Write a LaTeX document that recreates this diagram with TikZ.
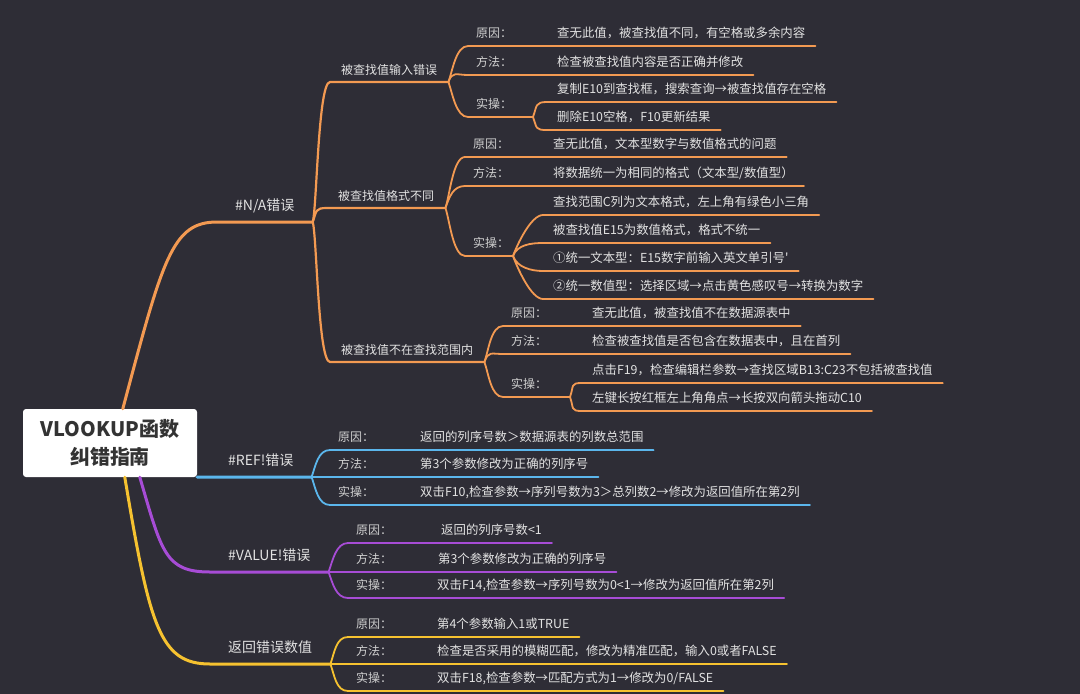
\documentclass[tikz,border=0pt]{standalone}
\usepackage{fontspec}
\setmainfont{Noto Sans CJK SC}
\definecolor{bgc}{HTML}{2E2D36}
\definecolor{cna}{HTML}{F39A52}
\definecolor{cref}{HTML}{5BB6EC}
\definecolor{cval}{HTML}{A74CD6}
\definecolor{crv}{HTML}{F6C230}
\definecolor{txtc}{HTML}{E2E2E2}
\definecolor{labc}{HTML}{D0D0D0}
\definecolor{rootc}{HTML}{333333}
\tikzstyle{root}=[fill=white,rounded corners=3pt,minimum width=174pt,minimum height=68pt,align=center,text=rootc,font=\fontsize{20}{28}\selectfont\bfseries]
\tikzstyle{main}=[anchor=south west,inner xsep=18pt,inner ysep=11pt,text depth=0pt,text=txtc,font=\fontsize{14}{16}\selectfont]
\tikzstyle{sub}=[anchor=south west,inner xsep=11pt,inner ysep=7.5pt,text depth=0pt,text=txtc,font=\fontsize{12}{14}\selectfont]
\tikzstyle{lab}=[anchor=south west,inner xsep=8pt,inner ysep=8pt,text depth=0pt,text=labc,font=\fontsize{12}{14}\selectfont]
\tikzstyle{txt}=[anchor=south west,inner xsep=10pt,inner ysep=8pt,text depth=0pt,text=txtc,font=\fontsize{12.4}{14}\selectfont]
\tikzstyle{bup}=[out=70,in=180,out distance=12pt,in distance=12pt]
\tikzstyle{bdn}=[out=-70,in=180,out distance=12pt,in distance=12pt]
\tikzstyle{nathick}=[cna,line width=3pt,line cap=round]
\tikzstyle{namid}=[cna,line width=2.2pt,line cap=round]
\tikzstyle{nathin}=[cna,line width=1.8pt,line cap=round]
\tikzstyle{refthick}=[cref,line width=3pt,line cap=round]
\tikzstyle{refthin}=[cref,line width=1.8pt,line cap=round]
\tikzstyle{valthick}=[cval,line width=3pt,line cap=round]
\tikzstyle{valthin}=[cval,line width=1.8pt,line cap=round]
\tikzstyle{rvthick}=[crv,line width=3pt,line cap=round]
\tikzstyle{rvthin}=[crv,line width=1.8pt,line cap=round]
\begin{document}
\begin{tikzpicture}[x=1pt,y=-1pt]
  \fill[bgc] (0,0) rectangle (1080,694);
  \useasboundingbox (0,0) rectangle (1080,694);

  % root and first level
  \node[root] (root) at (110,443) {VLOOKUP函数\\纠错指南};
  \coordinate (rNA) at ([xshift=100pt]root.north west);
  \coordinate (rVAL) at ([xshift=117pt]root.south west);
  \coordinate (rRV) at ([xshift=102pt]root.south west);
  \node[main] (na) at (217,222) {\#N/A错误};
  \node[main] (ref) at (210,477) {\#REF!错误};
  \node[main] (val) at (210,572) {\#VALUE!错误};
  \node[main] (rv) at (210,664) {返回错误数值};

  % #N/A
  \node[sub] (s1) at (330,82) {被查找值输入错误};
  \node[sub] (s2) at (327,208) {被查找值格式不同};
  \node[sub] (s3) at (330,362) {被查找值不在查找范围内};

  \node[lab] (s1a) at (468,46) {原因：};
  \node[txt] (s1at) at (547,46) {查无此值，被查找值不同，有空格或多余内容};
  \node[lab] (s1b) at (468,75) {方法：};
  \node[txt] (s1bt) at (547,75) {检查被查找值内容是否正确并修改};
  \node[lab] (s1c) at (468,117) {实操：};
  \coordinate (s1f) at (533,117);
  \node[txt] (s1c1) at (547,102) {复制E10到查找框，搜索查询→被查找值存在空格};
  \node[txt] (s1c2) at (547,130) {删除E10空格，F10更新结果};

  \node[lab] (s2a) at (465,157) {原因：};
  \node[txt] (s2at) at (543,157) {查无此值，文本型数字与数值格式的问题};
  \node[lab] (s2b) at (465,186) {方法：};
  \node[txt] (s2bt) at (543,186) {将数据统一为相同的格式（文本型/数值型）};
  \node[lab] (s2c) at (465,256) {实操：};
  \coordinate (s2f) at (513,256);
  \node[txt] (s2c1) at (543,215) {查找范围C列为文本格式，左上角有绿色小三角};
  \node[txt] (s2c2) at (543,243) {被查找值E15为数值格式，格式不统一};
  \node[txt] (s2c3) at (543,271) {①统一文本型：E15数字前输入英文单引号\textquotesingle};
  \node[txt] (s2c4) at (543,299) {②统一数值型：选择区域→点击黄色感叹号→转换为数字};

  \node[lab] (s3a) at (503,326) {原因：};
  \node[txt] (s3at) at (582,326) {查无此值，被查找值不在数据源表中};
  \node[lab] (s3b) at (503,354) {方法：};
  \node[txt] (s3bt) at (582,354) {检查被查找值是否包含在数据表中，且在首列};
  \node[lab] (s3c) at (503,397) {实操：};
  \coordinate (s3f) at (570,397);
  \node[txt] (s3c1) at (582,383) {点击F19，检查编辑栏参数→查找区域B13:C23不包括被查找值};
  \node[txt] (s3c2) at (582,411) {左键长按红框左上角角点→长按双向箭头拖动C10};

  % #REF!
  \node[lab] (ra) at (330,450) {原因：};
  \node[txt] (rat) at (410,450) {返回的列序号数＞数据源表的列数总范围};
  \node[lab] (rb) at (330,477) {方法：};
  \node[txt] (rbt) at (410,477) {第3个参数修改为正确的列序号};
  \node[lab] (rc) at (330,505) {实操：};
  \node[txt] (rct) at (410,505) {双击F10,检查参数→序列号数为3＞总列数2→修改为返回值所在第2列};

  % #VALUE!
  \node[lab] (va) at (348,543) {原因：};
  \node[txt] (vat) at (431,543) {返回的列序号数<1};
  \node[lab] (vb) at (348,572) {方法：};
  \node[txt] (vbt) at (428,572) {第3个参数修改为正确的列序号};
  \node[lab] (vc) at (348,598) {实操：};
  \node[txt] (vct) at (427,598) {双击F14,检查参数→序列号数为0<1→修改为返回值所在第2列};

  % wrong value
  \node[lab] (ya) at (348,637) {原因：};
  \node[txt] (yat) at (427,637) {第4个参数输入1或TRUE};
  \node[lab] (yb) at (348,664) {方法：};
  \node[txt] (ybt) at (427,664) {检查是否采用的模糊匹配，修改为精准匹配，输入0或者FALSE};
  \node[lab] (yc) at (348,691) {实操：};
  \node[txt] (yct) at (427,691) {双击F18,检查参数→匹配方式为1→修改为0/FALSE};

  % branches
  \draw[nathick] (rNA) .. controls +(40,-150) and +(-45,0) .. (na.south west) -- (na.south east);
  \draw[refthick] (root.south east) -- (ref.south west) -- (ref.south east);
  \draw[valthick] (rVAL) .. controls +(22,75) and +(-45,0) .. (val.south west) -- (val.south east);
  \draw[rvthick] (rRV) .. controls +(25,150) and +(-50,0) .. (rv.south west) -- (rv.south east);

  \draw[namid] (na.south east) to[bup] (s1.south west) -- (s1.south east);
  \draw[namid] (na.south east) to[bup] (s2.south west) -- (s2.south east);
  \draw[namid] (na.south east) to[bdn] (s3.south west) -- (s3.south east);

  \draw[nathin] (s1.south east) to[bup] (s1a.south west) -- (s1at.south east);
  \draw[nathin] (s1.south east) to[bup] (s1b.south west) -- (s1bt.south east);
  \draw[nathin] (s1.south east) to[bdn] (s1c.south west) -- (s1f);
  \draw[nathin] (s1f) to[bup] (s1c1.south west) -- (s1c1.south east);
  \draw[nathin] (s1f) to[bdn] (s1c2.south west) -- (s1c2.south east);

  \draw[nathin] (s2.south east) to[bup] (s2a.south west) -- (s2at.south east);
  \draw[nathin] (s2.south east) to[bup] (s2b.south west) -- (s2bt.south east);
  \draw[nathin] (s2.south east) to[bdn] (s2c.south west) -- (s2f);
  \draw[nathin] (s2f) to[bup] (s2c1.south west) -- (s2c1.south east);
  \draw[nathin] (s2f) to[bup] (s2c2.south west) -- (s2c2.south east);
  \draw[nathin] (s2f) to[bdn] (s2c3.south west) -- (s2c3.south east);
  \draw[nathin] (s2f) to[bdn] (s2c4.south west) -- (s2c4.south east);

  \draw[nathin] (s3.south east) to[bup] (s3a.south west) -- (s3at.south east);
  \draw[nathin] (s3.south east) to[bup] (s3b.south west) -- (s3bt.south east);
  \draw[nathin] (s3.south east) to[bdn] (s3c.south west) -- (s3f);
  \draw[nathin] (s3f) to[bup] (s3c1.south west) -- (s3c1.south east);
  \draw[nathin] (s3f) to[bdn] (s3c2.south west) -- (s3c2.south east);

  \draw[refthin] (ref.south east) to[bup] (ra.south west) -- (rat.south east);
  \draw[refthin] (ref.south east) -- (rb.south west) -- (rbt.south east);
  \draw[refthin] (ref.south east) to[bdn] (rc.south west) -- (rct.south east);

  \draw[valthin] (val.south east) to[bup] (va.south west) -- (vat.south east);
  \draw[valthin] (val.south east) -- (vb.south west) -- (vbt.south east);
  \draw[valthin] (val.south east) to[bdn] (vc.south west) -- (vct.south east);

  \draw[rvthin] (rv.south east) to[bup] (ya.south west) -- (yat.south east);
  \draw[rvthin] (rv.south east) -- (yb.south west) -- (ybt.south east);
  \draw[rvthin] (rv.south east) to[bdn] (yc.south west) -- (yct.south east);
\end{tikzpicture}
\end{document}
